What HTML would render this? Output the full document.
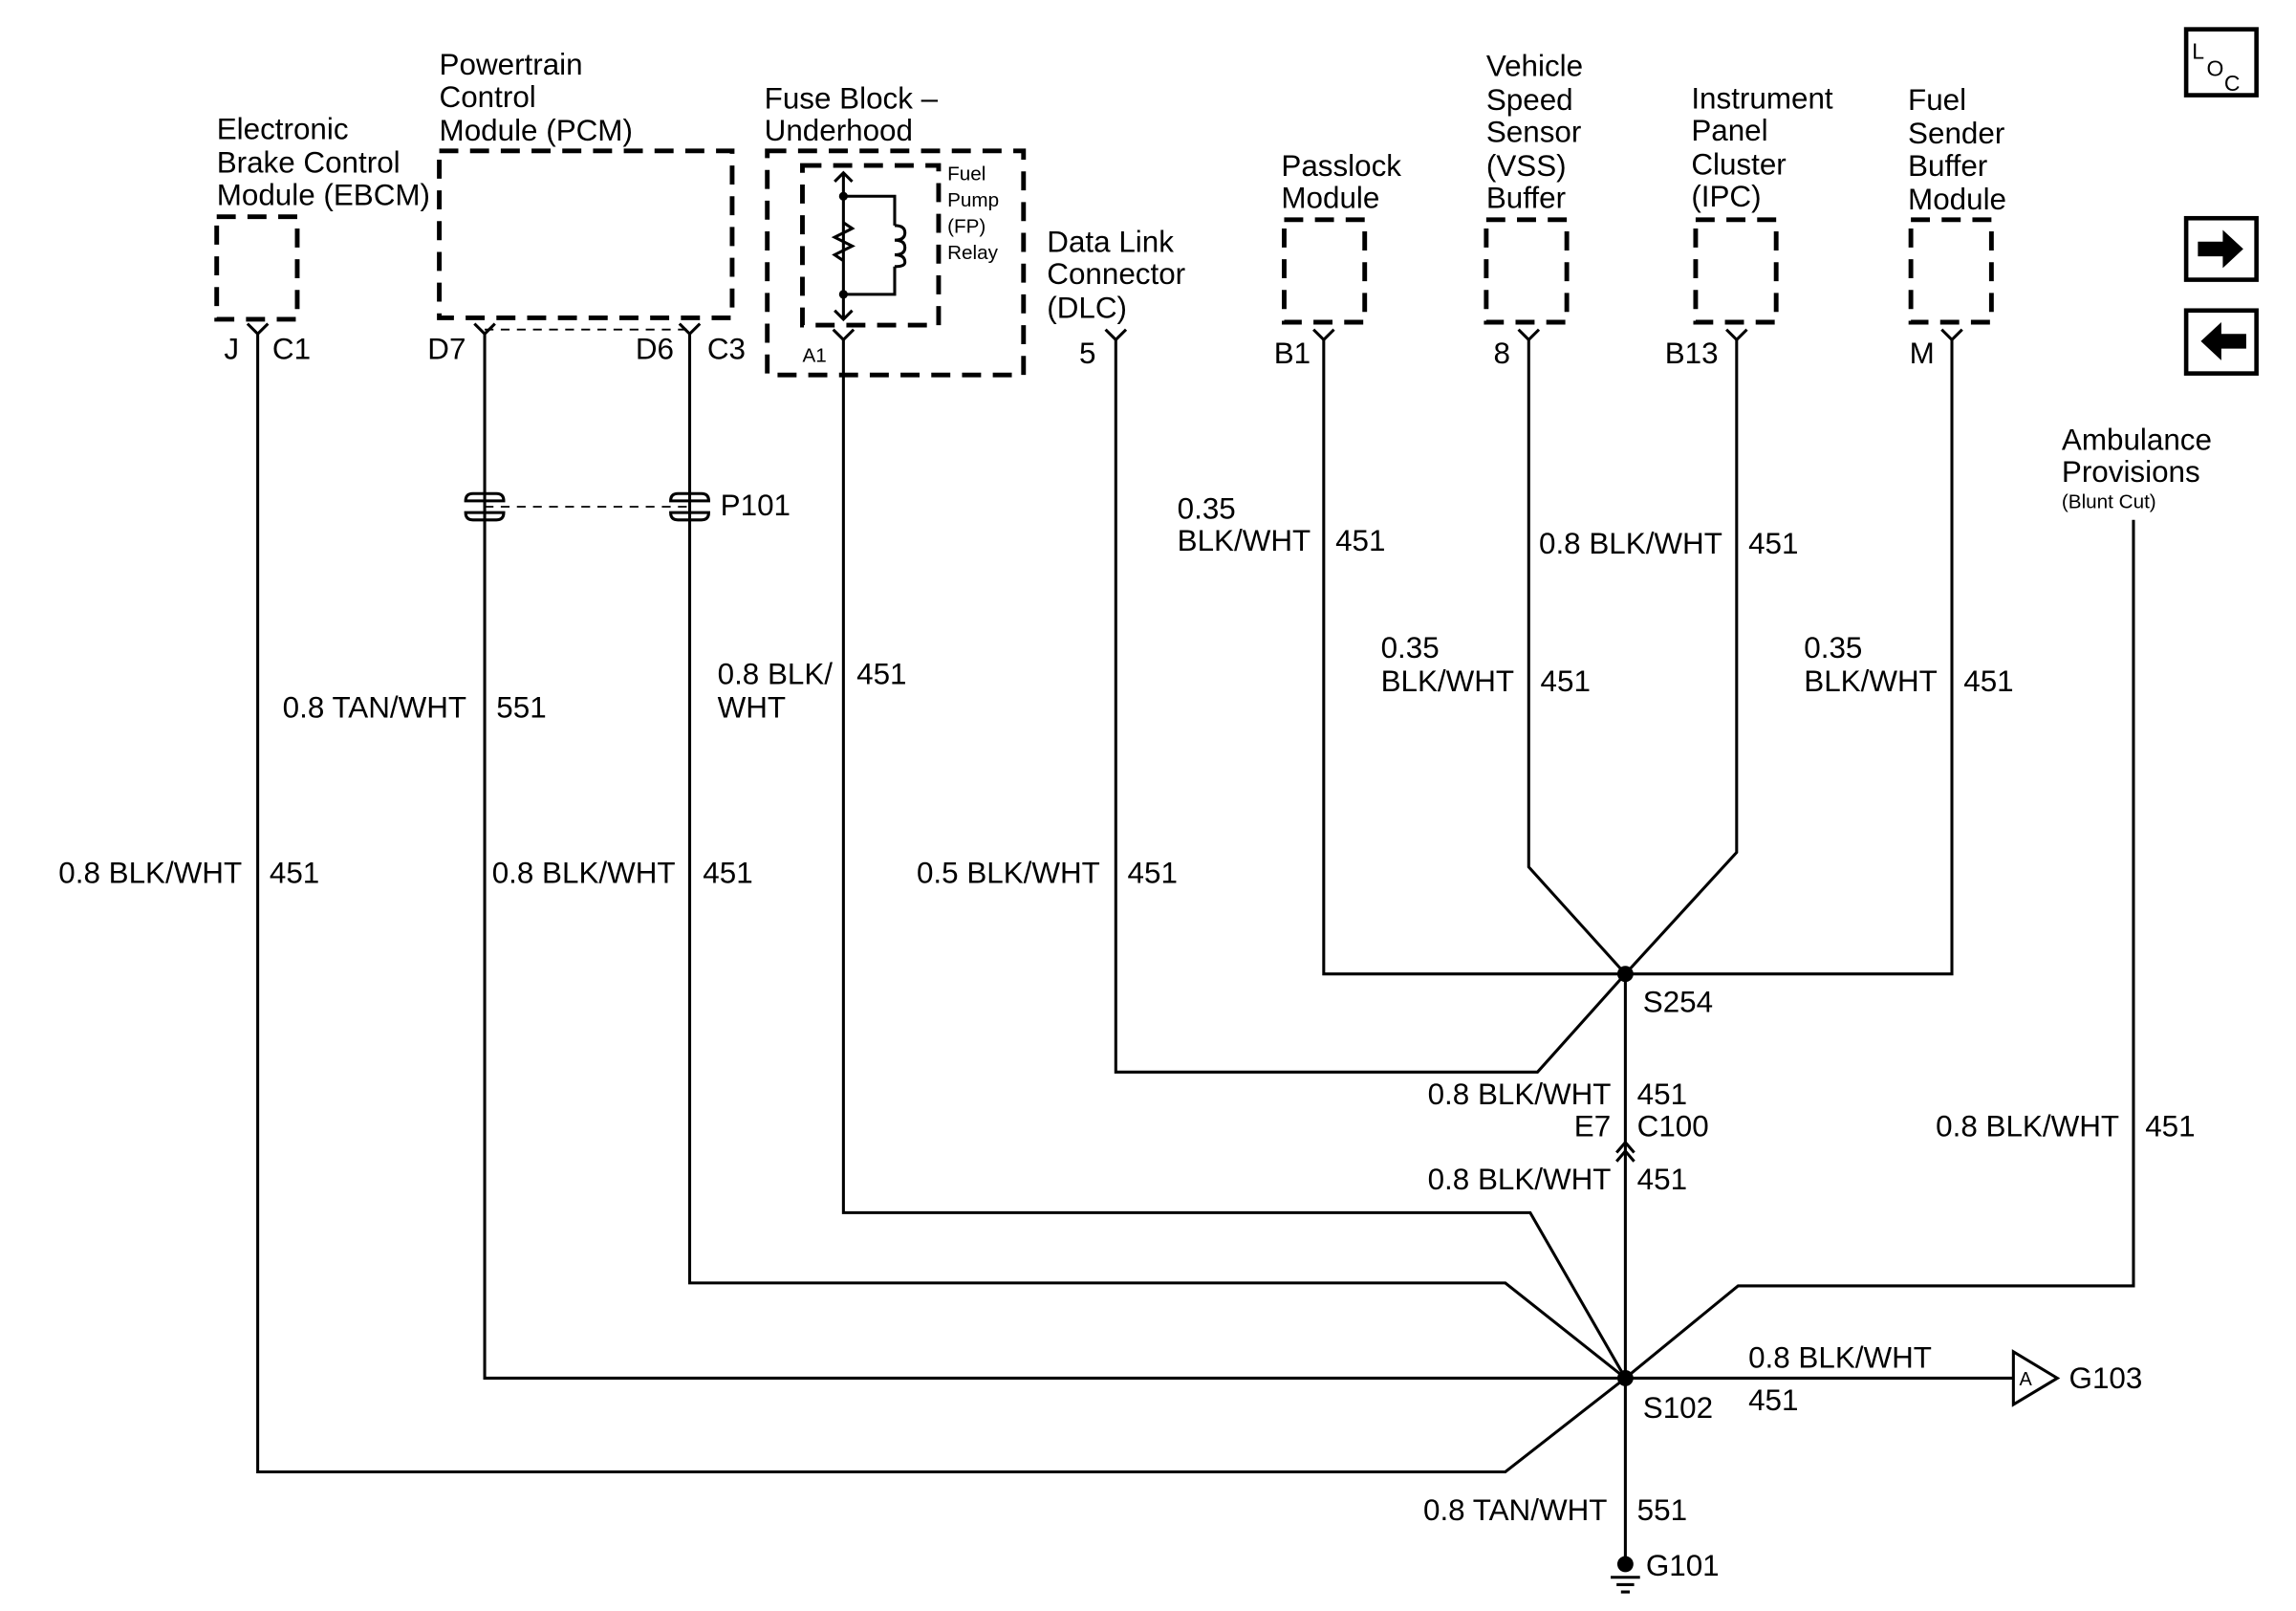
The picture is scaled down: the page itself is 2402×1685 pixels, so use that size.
<!DOCTYPE html>
<html><head><meta charset="utf-8"><style>
html,body{margin:0;padding:0;background:#fff}
svg{display:block}
text{font-family:"Liberation Sans",Arial,sans-serif;font-size:20.5px;fill:#000}
.s{font-size:13.5px}
</style></head><body>
<svg width="2402" height="1685" viewBox="0 0 1568 1100" preserveAspectRatio="none" xmlns="http://www.w3.org/2000/svg">
<g fill="none" stroke="#000">
<g stroke-width="3.2" stroke-dasharray="13,8">
<rect x="148" y="148" width="55" height="70"/>
<rect x="300" y="103" width="200" height="114"/>
<rect x="524" y="103" width="175" height="153"/>
<rect x="548" y="113" width="93" height="109"/>
<rect x="877" y="150" width="55" height="70"/>
<rect x="1015" y="150" width="55" height="70"/>
<rect x="1158" y="150" width="55" height="70"/>
<rect x="1305" y="150" width="55" height="70"/>
</g>
<path d="M331 225 H471 M331 346 H471" stroke-width="1.2" stroke-dasharray="6,5"/>
<g stroke-width="2">
<path d="M576 118 V218 M570 124 L576 118 L582 124 M570 212 L576 218 L582 212"/>
<path d="M576 134 H611 V154 M611 182 V201 H576"/>
<path d="M576 152 L582 156 L570 162 L582 168 L570 174 L576 178"/>
<path d="M611 154 q7 0 7 5 q0 5 -7 5 q7 0 7 5 q0 5 -7 5 q7 0 7 5 q0 3 -7 3"/>
</g>
<g stroke-width="2">
<path d="M176 228 V1005 H1028 L1110 941"/>
<path d="M331 228 V941 H1110"/>
<path d="M471 228 V876 H1028 L1110 941"/>
<path d="M576 232 V828 H1045 L1110 941"/>
<path d="M762 232 V732 H1050 L1110 665"/>
<path d="M904 232 V665 H1333 V232"/>
<path d="M1044 232 V592 L1110 665"/>
<path d="M1186 232 V582 L1110 665"/>
<path d="M1457 355 V878 H1187 L1110 941"/>
<path d="M1110 665 V1065"/>
<path d="M1110 941 H1375"/>
<path d="M1104 787 L1110 780 L1116 787 M1104 793 L1110 786 L1116 793"/>
<path d="M1375 923 V959 L1405 941 Z"/>
<path d="M1100 1077 H1120 M1104 1082 H1116 M1107 1087 H1113"/>
<path d="M169 221 L176 228 L183 221 M324 221 L331 228 L338 221 M464 221 L471 228 L478 221 M569 225 L576 232 L583 225 M755 225 L762 232 L769 225 M897 225 L904 232 L911 225 M1037 225 L1044 232 L1051 225 M1179 225 L1186 232 L1193 225 M1326 225 L1333 232 L1340 225"/>
<path d="M318 342 q0 -5 5 -5 h16 q5 0 5 5 Z M318 350 q0 5 5 5 h16 q5 0 5 -5 Z M458 342 q0 -5 5 -5 h16 q5 0 5 5 Z M458 350 q0 5 5 5 h16 q5 0 5 -5 Z"/>
</g>
<rect x="1493" y="20" width="48" height="45" stroke-width="3"/>
<rect x="1493" y="149" width="48" height="42" stroke-width="3"/>
<rect x="1493" y="212" width="48" height="43" stroke-width="3"/>
</g>
<g fill="#000">
<circle cx="1110" cy="665" r="5.5"/><circle cx="1110" cy="941" r="5.5"/><circle cx="1110" cy="1068" r="5.5"/>
<circle cx="576" cy="134" r="3"/><circle cx="576" cy="201" r="3"/>
<path d="M1501 165 H1518 V157 L1532 170 L1518 183 V175 H1501 Z"/>
<path d="M1534 228 H1517 V220 L1503 233 L1517 246 V238 H1534 Z"/>
</g>
<text x="1497" y="40" style="font-size:15px">L</text><text x="1507" y="52" style="font-size:15px">O</text><text x="1519" y="62" style="font-size:15px">C</text>
<text x="148" y="95">Electronic</text><text x="148" y="118">Brake Control</text><text x="148" y="140">Module (EBCM)</text>
<text x="300" y="51">Powertrain</text><text x="300" y="73">Control</text><text x="300" y="96">Module (PCM)</text>
<text x="522" y="74">Fuse Block –</text><text x="522" y="96">Underhood</text>
<text class="s" x="647" y="123">Fuel</text><text class="s" x="647" y="141">Pump</text><text class="s" x="647" y="159">(FP)</text><text class="s" x="647" y="177">Relay</text>
<text x="715" y="172">Data Link</text><text x="715" y="194">Connector</text><text x="715" y="217">(DLC)</text>
<text x="875" y="120">Passlock</text><text x="875" y="142">Module</text>
<text x="1015" y="52">Vehicle</text><text x="1015" y="75">Speed</text><text x="1015" y="97">Sensor</text><text x="1015" y="120">(VSS)</text><text x="1015" y="142">Buffer</text>
<text x="1155" y="74">Instrument</text><text x="1155" y="96">Panel</text><text x="1155" y="119">Cluster</text><text x="1155" y="141">(IPC)</text>
<text x="1303" y="75">Fuel</text><text x="1303" y="98">Sender</text><text x="1303" y="120">Buffer</text><text x="1303" y="143">Module</text>
<text x="1408" y="307">Ambulance</text><text x="1408" y="329">Provisions</text><text class="s" x="1408" y="347">(Blunt Cut)</text>
<text x="153" y="245">J</text><text x="186" y="245">C1</text>
<text x="292" y="245">D7</text><text x="434" y="245">D6</text><text x="483" y="245">C3</text>
<text class="s" x="548" y="247">A1</text><text x="737" y="248">5</text>
<text x="870" y="248">B1</text><text x="1020" y="248">8</text><text x="1137" y="248">B13</text><text x="1304" y="248">M</text>
<text x="492" y="352">P101</text>
<text x="804" y="354">0.35</text><text x="804" y="376">BLK/WHT</text><text x="912" y="376">451</text>
<text x="1051" y="378">0.8 BLK/WHT</text><text x="1194" y="378">451</text>
<text x="943" y="449">0.35</text><text x="943" y="472">BLK/WHT</text><text x="1052" y="472">451</text>
<text x="1232" y="449">0.35</text><text x="1232" y="472">BLK/WHT</text><text x="1341" y="472">451</text>
<text x="490" y="467">0.8 BLK/</text><text x="490" y="490">WHT</text><text x="585" y="467">451</text>
<text x="193" y="490">0.8 TAN/WHT</text><text x="339" y="490">551</text>
<text x="40" y="603">0.8 BLK/WHT</text><text x="184" y="603">451</text>
<text x="336" y="603">0.8 BLK/WHT</text><text x="480" y="603">451</text>
<text x="626" y="603">0.5 BLK/WHT</text><text x="770" y="603">451</text>
<text x="1122" y="691">S254</text>
<text x="975" y="754">0.8 BLK/WHT</text><text x="1118" y="754">451</text>
<text x="1075" y="776">E7</text><text x="1118" y="776">C100</text>
<text x="975" y="812">0.8 BLK/WHT</text><text x="1118" y="812">451</text>
<text x="1322" y="776">0.8 BLK/WHT</text><text x="1465" y="776">451</text>
<text x="1194" y="934">0.8 BLK/WHT</text><text x="1194" y="963">451</text>
<text x="1122" y="968">S102</text>
<text style="font-size:13px" x="1379" y="946">A</text><text x="1413" y="948">G103</text>
<text x="972" y="1038">0.8 TAN/WHT</text><text x="1118" y="1038">551</text>
<text x="1124" y="1076">G101</text>
</svg>
</body></html>
